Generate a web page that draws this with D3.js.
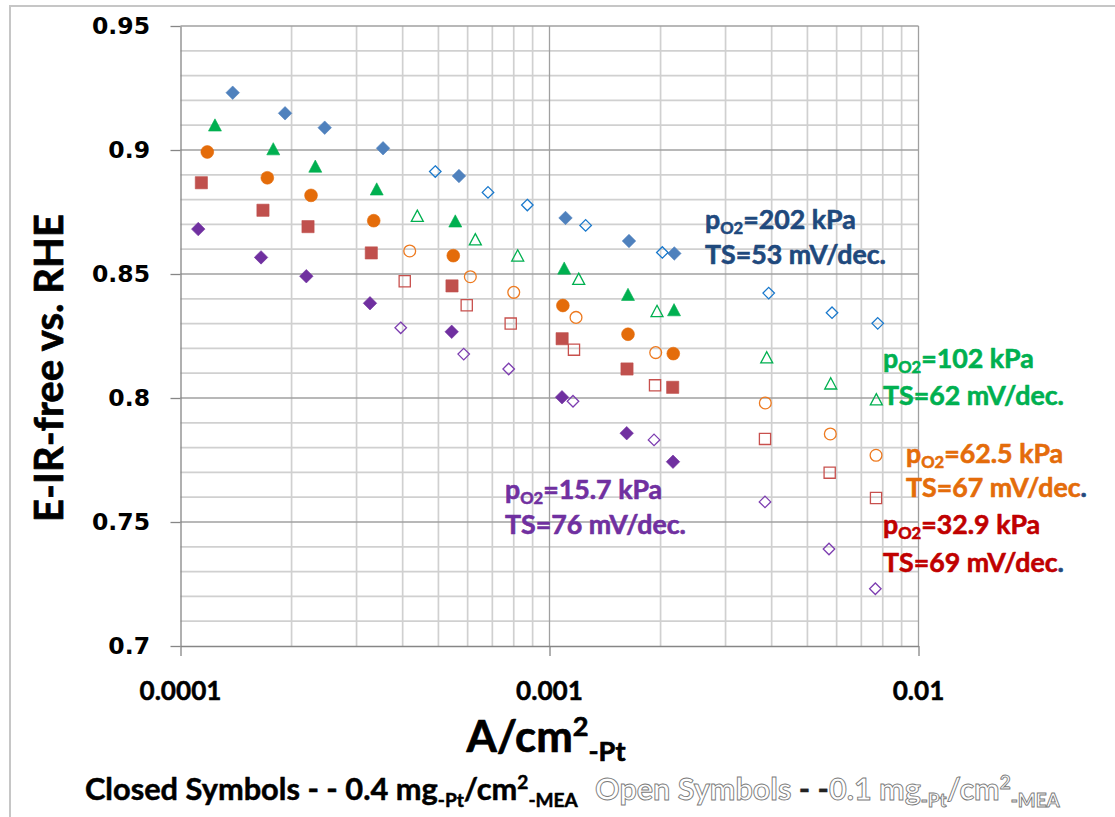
<!DOCTYPE html>
<html><head><meta charset="utf-8">
<script src="https://cdn.jsdelivr.net/npm/d3@7"></script>
<style>body{margin:0;background:#fff} svg{display:block} text{white-space:pre}</style>
</head><body><svg id="c" width="1115" height="817"></svg>
<script>
// ---------------- DATA ----------------
const xTickValues = [0.0001, 0.001, 0.01];
const xTickLabels = ["0.0001", "0.001", "0.01"];
const yTickValues = [0.7, 0.75, 0.8, 0.85, 0.9, 0.95];
const yTickLabels = ["0.7", "0.75", "0.8", "0.85", "0.9", "0.95"];

// current density (A/cm2-Pt) and potential (V) — closed = 0.4 mg, open = 0.1 mg
const blueClosedI = [1.385e-4, 1.92e-4, 2.459e-4, 3.539e-4, 5.684e-4, 1.105e-3, 1.642e-3, 2.179e-3];
const blueClosedE = [0.9231, 0.9148, 0.9090, 0.9007, 0.8895, 0.8726, 0.8633, 0.8583];
const blueOpenI = [4.903e-4, 6.813e-4, 8.708e-4, 1.253e-3, 2.022e-3, 3.927e-3, 5.83e-3, 7.753e-3];
const blueOpenE = [0.8913, 0.8829, 0.8778, 0.8696, 0.8587, 0.8423, 0.8344, 0.8301];

const greenClosedI = [1.240e-4, 1.784e-4, 2.319e-4, 3.402e-4, 5.555e-4, 1.096e-3, 1.632e-3, 2.175e-3];
const greenClosedE = [0.9101, 0.9005, 0.8935, 0.8843, 0.8714, 0.8524, 0.8418, 0.8356];
const greenOpenI = [4.383e-4, 6.295e-4, 8.2e-4, 1.2e-3, 1.956e-3, 3.879e-3, 5.783e-3, 7.686e-3];
const greenOpenE = [0.8735, 0.8640, 0.8575, 0.8481, 0.8351, 0.8164, 0.8059, 0.7995];

const orangeClosedI = [1.182e-4, 1.719e-4, 2.258e-4, 3.339e-4, 5.486e-4, 1.087e-3, 1.632e-3, 2.165e-3];
const orangeClosedE = [0.8992, 0.8888, 0.8817, 0.8715, 0.8574, 0.8373, 0.8257, 0.8179];
const orangeOpenI = [4.18e-4, 6.102e-4, 8.0e-4, 1.18e-3, 1.94e-3, 3.845e-3, 5.768e-3, 7.672e-3];
const orangeOpenE = [0.8593, 0.8489, 0.8426, 0.8325, 0.8183, 0.7980, 0.7855, 0.7769];

const redClosedI = [1.139e-4, 1.673e-4, 2.216e-4, 3.289e-4, 5.442e-4, 1.082e-3, 1.622e-3, 2.157e-3];
const redClosedE = [0.8868, 0.8757, 0.8691, 0.8585, 0.8452, 0.8239, 0.8117, 0.8043];
const redOpenI = [4.052e-4, 5.966e-4, 7.85e-4, 1.165e-3, 1.932e-3, 3.837e-3, 5.745e-3, 7.672e-3];
const redOpenE = [0.8471, 0.8374, 0.8300, 0.8195, 0.8051, 0.7835, 0.7699, 0.7597];

const purpleClosedI = [1.117e-4, 1.653e-4, 2.193e-4, 3.262e-4, 5.432e-4, 1.081e-3, 1.619e-3, 2.161e-3];
const purpleClosedE = [0.8681, 0.8567, 0.8491, 0.8382, 0.8267, 0.8003, 0.7858, 0.7743];
const purpleOpenI = [3.952e-4, 5.855e-4, 7.752e-4, 1.158e-3, 1.920e-3, 3.837e-3, 5.721e-3, 7.639e-3];
const purpleOpenE = [0.8283, 0.8177, 0.8117, 0.7987, 0.7831, 0.7581, 0.7391, 0.7231];

const labelPressure = ["202", "102", "62.5", "32.9", "15.7"];
const labelSlope = ["53", "62", "67", "69", "76"];

// ---------------- SETUP ----------------
const W = 1115, H = 817;
const svg = d3.select('#c');
const P = {l: 180.5, r: 918.5, t: 26, b: 646};
const x = d3.scaleLog().domain([1e-4, 1e-2]).range([P.l, P.r]);
const y = d3.scaleLinear().domain([0.7, 0.95]).range([P.b, P.t]);

// outer chart border
svg.append('path').attr('d', `M10,${H}V6H${W}`).attr('fill', 'none')
  .attr('stroke', '#c6c6c6').attr('stroke-width', 2);

// gridlines
const grid = svg.append('g');
const yMinor = d3.range(70, 96).filter(v => v % 5 !== 0).map(v => v / 100);
const yMajor = yTickValues;
const xMinor = [];
[1e-4, 1e-3].forEach(d => { for (let k = 2; k <= 9; k++) xMinor.push(k * d); });
const minorStyle = s => s.attr('stroke', '#d0d0d0').attr('stroke-width', 1.7);
const majorStyle = s => s.attr('stroke', '#a0a0a0').attr('stroke-width', 1.3);
grid.selectAll('.hm').data(yMinor).join('line')
  .attr('x1', P.l).attr('x2', P.r).attr('y1', d => y(d)).attr('y2', d => y(d)).call(minorStyle);
grid.selectAll('.vm').data(xMinor).join('line')
  .attr('y1', P.t).attr('y2', P.b).attr('x1', d => x(d)).attr('x2', d => x(d)).call(minorStyle);
grid.selectAll('.hM').data(yMajor.slice(1)).join('line')
  .attr('x1', P.l).attr('x2', P.r).attr('y1', d => y(d)).attr('y2', d => y(d)).call(majorStyle);
grid.selectAll('.vM').data(xTickValues.slice(1)).join('line')
  .attr('y1', P.t).attr('y2', P.b).attr('x1', d => x(d)).attr('x2', d => x(d)).call(majorStyle);

// axes
const yAxis = d3.axisLeft(y).tickValues(yTickValues).tickFormat('').tickSize(10).tickSizeOuter(0);
const gy = svg.append('g').attr('transform', `translate(${P.l},0)`).call(yAxis);
const xAxis = d3.axisBottom(x).tickValues(xTickValues).tickFormat('').tickSize(10).tickSizeOuter(0);
const gx = svg.append('g').attr('transform', `translate(0,${P.b})`).call(xAxis);
[gx, gy].forEach(g => { g.selectAll('path,line').attr('stroke', '#868686').attr('stroke-width', 1.3); });

// tick labels
svg.append('g').selectAll('text').data(yTickValues).join('text')
  .attr('x', 150).attr('y', d => y(d)).attr('dy', '0.36em').attr('text-anchor', 'end')
  .style('font-family', '"DejaVu Sans", Verdana, sans-serif').style('font-weight', 700)
  .attr('font-size', 23.5).attr('fill', '#000')
  .text((d, i) => yTickLabels[i]);

// rich text helper (sizes fitted to target widths)
function rich(parent, xx, yy, segs, base, target, anchor, heavy) {
  const t = parent.append('text').attr('x', xx).attr('y', yy).attr('text-anchor', anchor || 'start')
    .style('font-family', 'Lato, "Open Sans", sans-serif').style('font-weight', 700);
  function render(f) {
    t.selectAll('tspan').remove();
    let prev = 0;
    segs.forEach(s => {
      const off = (s.off || 0) * f;
      const ts = t.append('tspan').text(s.t).attr('font-size', (s.s || 1) * f).attr('dy', off - prev)
        .attr('fill', s.fill || '#000');
      if (s.stroke) ts.attr('stroke', s.stroke).attr('stroke-width', s.sw || 1);
      else if (heavy) ts.attr('stroke', s.fill || '#000').attr('stroke-width', heavy).attr('stroke-linejoin', 'round');
      prev = off;
    });
  }
  render(base);
  let f = base;
  if (target) { f = base * target / t.node().getComputedTextLength(); render(f); }
  t.fontSize = f;
  return t;
}

// x tick labels
const xtl = svg.append('g');
const probe = rich(xtl, -1000, -1000, [{t: xTickLabels[0]}], 26, 82, 'middle');
const xtSize = probe.fontSize; probe.remove();
xTickValues.forEach((v, i) => rich(xtl, x(v), 700, [{t: xTickLabels[i]}], xtSize, null, 'middle', 0.5));

// axis titles
rich(svg, 546, 752, [{t: 'A/cm'}, {t: '2', s: 0.62, off: -0.36}, {t: '-Pt', s: 0.62, off: 0.2}], 40, 159, 'middle', 0.7);
const yt = svg.append('g').attr('transform', 'translate(63,368) rotate(-90)');
rich(yt, 0, 0, [{t: 'E-IR-free vs. RHE'}], 40, 308, 'middle', 0.7);

// bottom note
rich(svg, 85, 800, [
  {t: 'Closed Symbols - - 0.4 mg'}, {t: '-Pt', s: 0.62, off: 0.22}, {t: '/cm', off: 0},
  {t: '2', s: 0.62, off: -0.36}, {t: '-MEA', s: 0.62, off: 0.22}], 29, 493, 'start', 0.5);
const OL = {fill: '#ffffff', stroke: '#7a7a7a', sw: 0.9};
rich(svg, 595, 800, [
  Object.assign({t: 'Open Symbols'}, OL), {t: ' - -', fill: '#222'},
  Object.assign({t: '0.1 mg'}, OL), Object.assign({t: '-Pt', s: 0.62, off: 0.22}, OL),
  Object.assign({t: '/cm', off: 0}, OL), Object.assign({t: '2', s: 0.62, off: -0.36}, OL),
  Object.assign({t: '-MEA', s: 0.62, off: 0.22}, OL)], 29, 465, 'start', 0.4);

// ---------------- MARKERS ----------------
const shapes = {
  diamond: {draw(c, s) { const h = s / 2; c.moveTo(0, -h); c.lineTo(h, 0); c.lineTo(0, h); c.lineTo(-h, 0); c.closePath(); }},
  square: {draw(c, s) { const h = s / 2; c.rect(-h, -h, s, s); }},
  circle: {draw(c, s) { const r = s / 2; c.moveTo(r, 0); c.arc(0, 0, r, 0, 2 * Math.PI); }},
  triangle: {draw(c, s) { const h = s / 2, v = s * 0.47; c.moveTo(0, -v); c.lineTo(h, v); c.lineTo(-h, v); c.closePath(); }}
};
const series = [
  {I: blueClosedI, E: blueClosedE, shape: 'diamond', filled: true, color: '#4F81BD', size: 13.5},
  {I: blueOpenI, E: blueOpenE, shape: 'diamond', filled: false, color: '#1878CC', size: 11.5},
  {I: greenClosedI, E: greenClosedE, shape: 'triangle', filled: true, color: '#00B050', size: 13},
  {I: greenOpenI, E: greenOpenE, shape: 'triangle', filled: false, color: '#00B050', size: 12},
  {I: orangeClosedI, E: orangeClosedE, shape: 'circle', filled: true, color: '#E46C0A', size: 12.8},
  {I: orangeOpenI, E: orangeOpenE, shape: 'circle', filled: false, color: '#EE7A1F', size: 11.8},
  {I: redClosedI, E: redClosedE, shape: 'square', filled: true, color: '#C0504D', size: 12.2},
  {I: redOpenI, E: redOpenE, shape: 'square', filled: false, color: '#C8504D', size: 11.2},
  {I: purpleClosedI, E: purpleClosedE, shape: 'diamond', filled: true, color: '#7030A0', size: 13.5},
  {I: purpleOpenI, E: purpleOpenE, shape: 'diamond', filled: false, color: '#7C3CB0', size: 11.5}
];
const mk = svg.append('g');
series.forEach(sr => {
  const sym = d3.symbol().type(shapes[sr.shape]).size(sr.size);
  mk.append('g').selectAll('path').data(sr.I.map((v, i) => [v, sr.E[i]])).join('path')
    .attr('transform', d => `translate(${x(d[0])},${y(d[1])})`)
    .attr('d', sym)
    .attr('fill', sr.filled ? sr.color : '#fff')
    .attr('fill-opacity', sr.filled ? 1 : 0)
    .attr('stroke', sr.color).attr('stroke-width', sr.filled ? 0.6 : 1.3);
});

// ---------------- ANNOTATIONS ----------------
const ann = [
  {c: '#1F497D', x: 705, y1: 229, y2: 264, dot: null},
  {c: '#00B050', x: 883, y1: 368, y2: 405, dot: null},
  {c: '#E46C0A', x: 906, y1: 463, y2: 497, dot: '#1F497D'},
  {c: '#C00000', x: 883, y1: 534, y2: 572, dot: '#1F497D'},
  {c: '#7030A0', x: 505, y1: 499, y2: 534, dot: null}
];
const ag = svg.append('g');
const pr = rich(ag, -1000, -1000, [{t: 'TS=' + labelSlope[0] + ' mV/dec.'}], 26, 181);
const aSize = pr.fontSize; pr.remove();
ann.forEach((a, i) => {
  rich(ag, a.x, a.y1, [{t: 'p', fill: a.c}, {t: 'O2', s: 0.62, off: 0.2, fill: a.c},
    {t: '=' + labelPressure[i] + ' kPa', off: 0, fill: a.c}], aSize, null, 'start', 0.6);
  rich(ag, a.x, a.y2, [{t: 'TS=' + labelSlope[i] + ' mV/dec', fill: a.c}, {t: '.', fill: a.dot || a.c}], aSize, null, 'start', 0.6);
});
</script></body></html>
